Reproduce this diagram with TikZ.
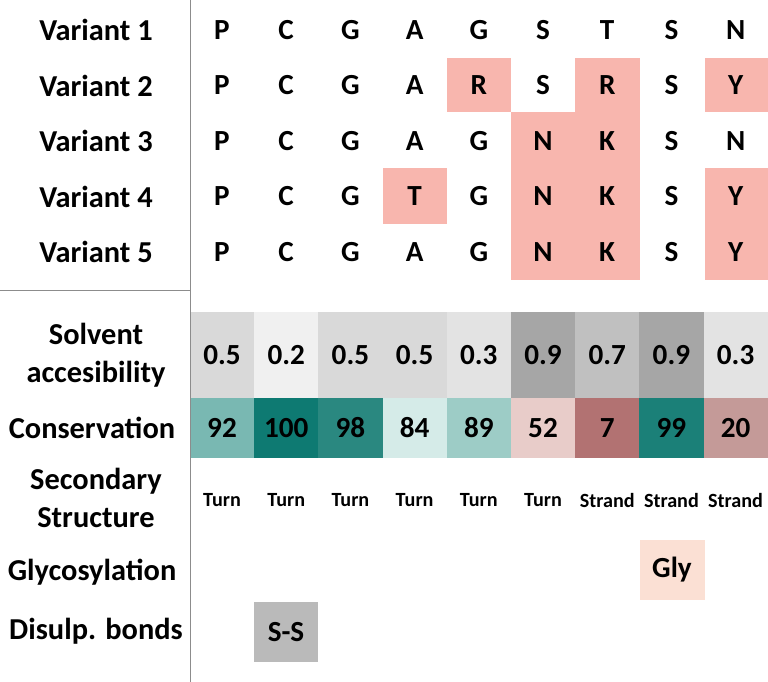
\documentclass[tikz,border=0pt]{standalone}
\usepackage{fontspec}
\setmainfont{Carlito}
\begin{document}
\begin{tikzpicture}[x=1pt,y=-1pt,
  lab/.style={font=\bfseries\fontsize{19}{24}\selectfont,align=center,scale=1.6},
  aa/.style={font=\bfseries\fontsize{18}{20}\selectfont,scale=1.62},
  ss/.style={font=\bfseries\fontsize{13}{15}\selectfont,scale=1.55},
  hl/.style={fill=pinkhl,draw=none}]
\definecolor{pinkhl}{HTML}{F8B6AE}
\useasboundingbox (0,0) rectangle (768,682);
\fill[white] (0,0) rectangle (768,682);
% highlight boxes
\fill[pinkhl] (447,58) rectangle (511,112);
\fill[pinkhl] (575,58) rectangle (640,280);
\fill[pinkhl] (511,112) rectangle (575,280);
\fill[pinkhl] (705,58) rectangle (768,112);
\fill[pinkhl] (705,168) rectangle (768,280);
\fill[pinkhl] (383,168) rectangle (447,224);
% solvent row
\foreach \i/\c/\v in {0/D9D9D9/0.5,1/F0F0F0/0.2,2/D9D9D9/0.5,3/D9D9D9/0.5,4/E3E3E3/0.3,5/A6A6A6/0.9,6/C0C0C0/0.7,7/A6A6A6/0.9,8/E3E3E3/0.3}{
  \definecolor{tmp}{HTML}{\c}
  \fill[tmp] (190+\i*64.2,312) rectangle (190+\i*64.2+64.2,398);
  \node[aa] (s\i) at (222+\i*64.2,355) {\v};
}
\foreach \i/\c/\v in {0/79B8B2/92,1/0E7A72/100,2/2A8880/98,3/D5EBE8/84,4/9DCCC6/89,5/E8CCC9/52,6/B27272/7,7/1B8078/99,8/C49A98/20}{
  \definecolor{tmp}{HTML}{\c}
  \fill[tmp] (190+\i*64.2,398) rectangle (190+\i*64.2+64.2,458);
  \node[aa] (c\i) at (222+\i*64.2,428) {\v};
}
\foreach \i/\v in {0/Turn,1/Turn,2/Turn,3/Turn,4/Turn,5/Turn,6/Strand,7/Strand,8/Strand}{
  \node[ss] (t\i) at (222+\i*64.2,500) {\v};
}
\definecolor{glyc}{HTML}{FBE0D4}
\fill[glyc] (640,540) rectangle (705,600);
\node[aa] (gly) at (672,570) {Gly};
\fill[black!27] (254,602) rectangle (318,662);
\node[aa] (sss) at (286,632) {S-S};
% sequences
\foreach \r/\seq in {1/{P,C,G,A,G,S,T,S,N},2/{P,C,G,A,R,S,R,S,Y},3/{P,C,G,A,G,N,K,S,N},4/{P,C,G,T,G,N,K,S,Y},5/{P,C,G,A,G,N,K,S,Y}}{
  \node[lab] (v\r) at (96,30+\r*55.5-55.5) {Variant \r};
  \foreach \l [count=\k from 0] in \seq {
    \node[aa] (a\r\k) at (222+\k*64.2,30+\r*55.5-55.5) {\l};
  }
}
\node[lab] (solv) at (96,355) {Solvent\\accesibility};
\node[lab] (cons) at (92,428) {Conservation};
\node[lab] (sec) at (96,498) {Secondary\\Structure};
\node[lab] (glyl) at (92,572) {Glycosylation};
\node[lab] (dis) at (96,631) {Disulp. bonds};
\draw[black!45,line width=0.8pt] (190,0) -- (190,682);
\draw[black!45,line width=0.8pt] (0,290) -- (190,290);
\end{tikzpicture}
\end{document}
